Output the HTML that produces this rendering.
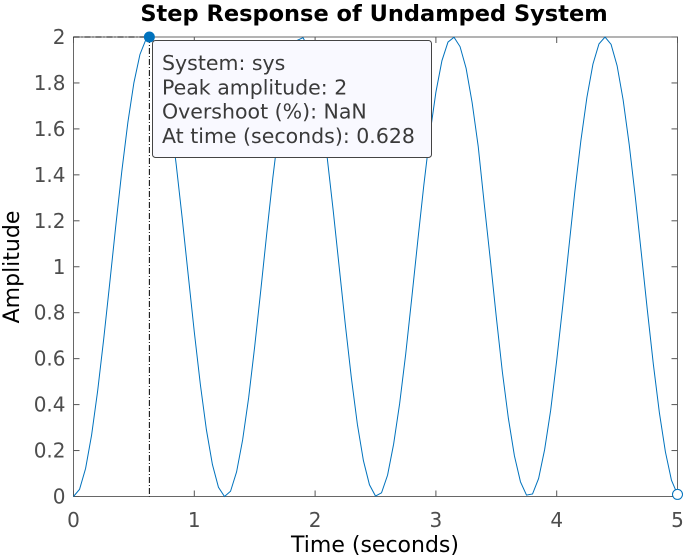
<!DOCTYPE html>
<html><head><meta charset="utf-8"><style>
body{margin:0;background:#fff;}
svg{display:block;font-family:"DejaVu Sans","Liberation Sans",sans-serif;}
</style></head><body>
<svg id="chart" width="687" height="558" viewBox="0 0 687 558">
<rect x="0" y="0" width="687" height="558" fill="#fff"/>
<text x="374" y="21" text-anchor="middle" font-size="22.5" font-weight="bold" fill="#000">Step Response of Undamped System</text>
<g id="axes"></g>
<g id="series"></g>
<g id="tip"></g>
<text x="375" y="552" text-anchor="middle" font-size="22" fill="#000">Time (seconds)</text>
<text transform="translate(19,267) rotate(-90)" text-anchor="middle" font-size="22" fill="#000">Amplitude</text>
</svg>
<script>
const xTicks=[0,1,2,3,4,5];
const yTicks=[0,0.2,0.4,0.6,0.8,1,1.2,1.4,1.6,1.8,2];
const yTickLabels=["0","0.2","0.4","0.6","0.8","1","1.2","1.4","1.6","1.8","2"];
const timeStep=0.05;
const amplitude=[0,.031,.122,.268,.460,.685,.929,1.178,1.416,1.628,1.801,1.924,1.990,1.994,1.936,1.821,1.654,1.446,1.211,.962,.716,.488,.291,.139,.040,.0001,.023,.107,.246,.430,.653,.896,1.146,1.387,1.602,1.782,1.911,1.985,1.997,1.947,1.839,1.685,1.476,1.244,.996,.749,.517,.314,.156,.051,.002,.016,.093,.228,.405,.620,.863,1.113,1.355,1.575,1.760,1.897,1.978,1.999,1.958,1.864,1.714,1.525,1.275,1.033,.781,.543,.340,.177,.064,.006,.011,.078,.204,.375,.592,.830,1.080,1.326,1.548,1.737,1.882,1.970,2.000,1.968,1.875,1.726,1.533,1.307,1.062,.813,.576,.365,.194,.071,.009];
const peakTime=0.628, peakAmp=2;
const tipLines=["System: sys","Peak amplitude: 2","Overshoot (%): NaN","At time (seconds): 0.628"];

const X0=73.5,X1=677.5,Y0=496.5,Y1=37;
const sx=v=>X0+(v-0)/(5-0)*(X1-X0);
const sy=v=>Y0-(v-0)/(2-0)*(Y0-Y1);
const NS="http://www.w3.org/2000/svg";
function mk(tag,attrs,parent){const e=document.createElementNS(NS,tag);for(const k in attrs)e.setAttribute(k,attrs[k]);parent.appendChild(e);return e;}
const axes=document.getElementById('axes'),ser=document.getElementById('series'),tip=document.getElementById('tip');
const box=mk('rect',{x:X0,y:Y1,width:X1-X0,height:Y0-Y1,fill:'none',stroke:'#262626','stroke-opacity':0.7,'stroke-width':1},axes);


xTicks.forEach(t=>{const x=sx(t);
 mk('line',{x1:x,x2:x,y1:Y0,y2:Y0-6,stroke:'#555'},axes);
 mk('line',{x1:x,x2:x,y1:Y1,y2:Y1+6,stroke:'#555'},axes);
 const tx=mk('text',{x:x,y:527,'text-anchor':'middle','font-size':20,fill:'#4d4d4d'},axes);tx.textContent=t;
 
 
});
yTicks.forEach((t,i)=>{const y=sy(t);
 mk('line',{x1:X0,x2:X0+6,y1:y,y2:y,stroke:'#555'},axes);
 mk('line',{x1:X1,x2:X1-6,y1:y,y2:y,stroke:'#555'},axes);
 const tx=mk('text',{x:X0-8,y:y+7,'text-anchor':'end','font-size':20,fill:'#4d4d4d'},axes);tx.textContent=yTickLabels[i];
 
 
});
const pts=amplitude.map((a,i)=>sx(i*timeStep).toFixed(2)+','+sy(a).toFixed(2)).join(' ');
const line=mk('polyline',{points:pts,fill:'none',stroke:'#0072bd','stroke-width':1},ser);


const last=amplitude.length-1;
const endc=mk('circle',{cx:sx(last*timeStep),cy:sy(amplitude[last]),r:5,fill:'#fff',stroke:'#0072bd','stroke-width':1},ser);


const v=mk('line',{x1:sx(peakTime),x2:sx(peakTime),y1:sy(peakAmp),y2:Y0,stroke:'#000','stroke-dasharray':'6 2 1 2','stroke-width':1},ser);


const h=mk('line',{x1:X0,x2:sx(peakTime),y1:sy(peakAmp),y2:sy(peakAmp),stroke:'#000','stroke-dasharray':'6 2 1 2','stroke-width':1},ser);


const pk=mk('circle',{cx:sx(peakTime),cy:sy(peakAmp),r:5.5,fill:'#0072bd'},ser);


const tb=mk('rect',{x:152.5,y:40.5,width:279,height:117,rx:3,fill:'#f9f9ff',stroke:'#444','stroke-width':1},tip);


tipLines.forEach((s,i)=>{const t=mk('text',{x:162,y:70+i*24.3,'font-size':20.5,fill:'#3a3a3a'},tip);t.textContent=s;
 
 
});
</script>
</body></html>
